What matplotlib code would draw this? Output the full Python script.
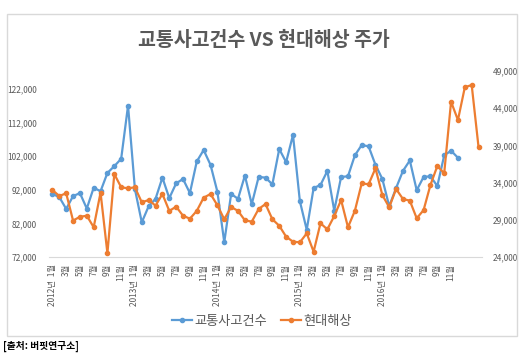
import matplotlib
matplotlib.use('Agg')
import matplotlib.pyplot as plt
from matplotlib.patches import Rectangle

plt.rcParams['font.family'] = ['Noto Sans CJK KR', 'DejaVu Sans']

# monthly data, Jan 2012 ~
accidents = [90750, 89800, 86300, 90100, 91000, 86400, 92600, 91550, 97000, 99000,
             101200, 117000, 92200, 82300, 87100, 89300, 95600, 89500, 93900, 95200,
             91000, 100400, 103800, 99400, 91400, 76400, 90750, 89300, 96200, 87700,
             95800, 95600, 93600, 104100, 100200, 108300, 88600, 80100, 92500, 93400,
             97600, 85800, 95800, 96000, 102200, 105300, 104900, 99400, 95200, 87100,
             92500, 97600, 100700, 91850, 95800, 96000, 93100, 102200, 103600, 101500]
hyundai = [33000, 32200, 32560, 28900, 29400, 29550, 28000, 32650, 24500, 35150,
           33370, 33230, 33370, 31350, 31660, 30900, 32470, 30200, 30760, 29550,
           29150, 30200, 31970, 32470, 30950, 29070, 30720, 30200, 28930, 28750,
           30450, 31120, 29070, 28200, 26730, 26060, 25970, 27180, 24710, 28530,
           27720, 29500, 31660, 28000, 30200, 33900, 33770, 35920, 32330, 30680,
           33140, 31800, 31570, 29200, 30300, 33680, 36230, 35250, 44870, 42410,
           46810, 47120, 38740]
years = [2012, 2013, 2014, 2015, 2016]
months = [1, 3, 5, 7, 9, 11]

blue = '#5B9BD5'
orange = '#ED7D31'
gray = '#595959'

fig = plt.figure(figsize=(5.27, 3.55), dpi=100)
fig.patches.append(Rectangle((7/527, 1-336/355), 510/527, 322/355, transform=fig.transFigure,
                             fill=False, edgecolor='#d9d9d9', linewidth=1))

ax = fig.add_axes([49/527, 1-257/355, 433/527, 186/355])
ax2 = ax.twinx()

l1, = ax.plot(range(len(accidents)), accidents, color=blue, lw=1.6, marker='o', ms=3, label='교통사고건수')
l2, = ax2.plot(range(len(hyundai)), hyundai, color=orange, lw=1.6, marker='o', ms=3, label='현대해상')

ax.set_xlim(-0.5, len(hyundai) - 0.5)
ax.set_ylim(72000, 127300)
ax2.set_ylim(24000, 49000)
ax.set_yticks(range(72000, 122001, 10000))
ax2.set_yticks(range(24000, 49001, 5000))
ax.set_yticklabels([f'{v:,}' for v in range(72000, 122001, 10000)])
ax2.set_yticklabels([f'{v:,}' for v in range(24000, 49001, 5000)])

pos, labs = [], []
for y in years:
    for m in months:
        pos.append((y - 2012) * 12 + m - 1)
        labs.append(f'{y}년  {m}월' if m == 1 else f'{m}월')
ax.set_xticks(pos)
ax.set_xticklabels(labs, rotation=90, va='top', ha='center', fontsize=5, color=gray)

for a in (ax, ax2):
    for s in a.spines.values():
        s.set_visible(False)
    a.tick_params(length=0, labelsize=6, colors=gray)
ax.spines['bottom'].set_visible(True)
ax.spines['bottom'].set_color('#d9d9d9')
ax.tick_params(axis='y', pad=9)
ax2.tick_params(axis='y', pad=8)
ax.tick_params(axis='x', pad=5)

fig.text(0.5, 1-40/355, '교통사고건수 VS 현대해상 주가', ha='center', va='center',
         fontsize=14, fontweight='bold', color=gray)
fig.legend(handles=[l1, l2], loc='center', bbox_to_anchor=(262/527, 1-321/355), ncol=2,
           frameon=False, fontsize=9.5, labelcolor=gray, handlelength=1.5, columnspacing=1.1,
           handletextpad=0.15)
fig.text(3/527, 1-346/355, '[출처: 버핏연구소]', ha='left', va='center', fontsize=7,
         fontweight='bold', color='black')

fig.savefig('out.png', dpi=100)
